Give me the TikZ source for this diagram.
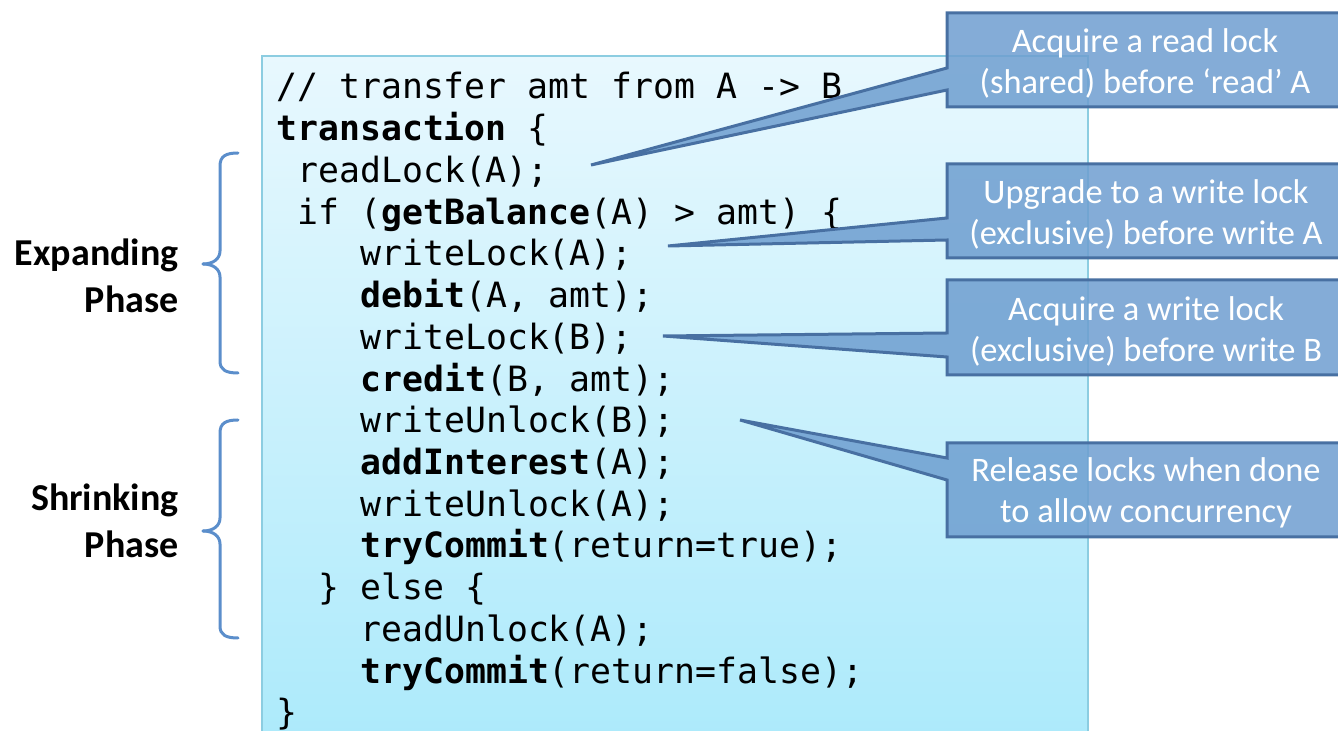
\documentclass[tikz,border=0pt]{standalone}
\usepackage{fontspec}
\setmainfont{Carlito}
\newfontfamily\codefont{DejaVu Sans Mono}
\definecolor{boxtop}{RGB}{232,248,254}
\definecolor{boxbot}{RGB}{172,234,251}
\definecolor{boxedge}{RGB}{140,205,225}
\definecolor{callfill}{RGB}{110,158,208}
\definecolor{calledge}{RGB}{72,112,162}
\definecolor{bracecol}{RGB}{91,142,203}
\begin{document}
\begin{tikzpicture}[x=0.5pt,y=-0.5pt,
  code/.style={anchor=base west, inner sep=0pt, font=\codefont\fontsize{17.4}{20}\selectfont},
  ctext/.style={text=white, align=center, inner sep=0pt, font=\fontsize{17.2}{20.5}\selectfont},
  callout/.style={fill=callfill, fill opacity=0.85, draw=calledge, line width=1.5pt, line join=miter},
  phase/.style={anchor=east, align=right, inner sep=0pt, font=\bfseries\fontsize{19}{23.5}\selectfont},
  bracestyle/.style={draw=bracecol, line width=1.5pt, line cap=round}]
\useasboundingbox (0,0) rectangle (1338,731);
% code box
\shade[top color=boxtop, bottom color=boxbot] (262,56) rectangle (1088,745);
\draw[boxedge, line width=0.6pt] (262,745) -- (262,56) -- (1088,56) -- (1088,745);
% code lines
\node[code] (c1) at (276,99) {// transfer amt from A -> B};
\node[code] (c2) at (276,140.7) {\textbf{transaction} \{};
\node[code] (c3) at (297,182.5) {readLock(A);};
\node[code] (c4) at (297,224.2) {if (\textbf{getBalance}(A) > amt) \{};
\node[code] (c5) at (360,265.9) {writeLock(A);};
\node[code] (c6) at (360,307.6) {\textbf{debit}(A, amt);};
\node[code] (c7) at (360,349.4) {writeLock(B);};
\node[code] (c8) at (360,391.1) {\textbf{credit}(B, amt);};
\node[code] (c9) at (360,432.8) {writeUnlock(B);};
\node[code] (c10) at (360,474.6) {\textbf{addInterest}(A);};
\node[code] (c11) at (360,516.3) {writeUnlock(A);};
\node[code] (c12) at (360,558) {\textbf{tryCommit}(return=true);};
\node[code] (c13) at (318,599.8) {\} else \{};
\node[code] (c14) at (360,641.5) {readUnlock(A);};
\node[code] (c15) at (360,683.2) {\textbf{tryCommit}(return=false);};
\node[code] (c16) at (276,724.9) {\}};
% pointer tips
\coordinate (t1) at (591,165);
\coordinate (t2) at (668,246);
\coordinate (t3) at (663,336);
\coordinate (t4) at (740,420);
% callouts
\path[callout] (947,13) -- (1345,13) -- (1345,107) -- (947,107) -- (947,90) -- (t1) -- (947,68) -- cycle;
\path[callout] (947,164) -- (1345,164) -- (1345,258) -- (947,258) -- (947,240) -- (t2) -- (947,218) -- cycle;
\path[callout] (947,280) -- (1345,280) -- (1345,375) -- (947,375) -- (947,357) -- (t3) -- (947,333) -- cycle;
\path[callout] (947,443) -- (1345,443) -- (1345,537) -- (947,537) -- (947,480) -- (t4) -- (947,458) -- cycle;
\node[ctext] (k1) at (1145,63.5) {Acquire a read lock\\(shared) before ‘read’ A};
\node[ctext] (k2) at (1146,214.5) {Upgrade to a write lock\\(exclusive) before write A};
\node[ctext] (k3) at (1146,331) {Acquire a write lock\\(exclusive) before write B};
\node[ctext] (k4) at (1146,492.5) {Release locks when done\\to allow concurrency};
% phase labels
\node[phase] (p1) at (179,276) {Expanding\\Phase};
\node[phase] (p2) at (179,521) {Shrinking\\Phase};
% braces
\draw[bracestyle] (238,153) .. controls (226,153) and (220,156) .. (220,166) -- (220,251)
  .. controls (220,259) and (213,264) .. (203,264);
\draw[bracestyle] (203,264) .. controls (213,264) and (220,269) .. (220,277) -- (220,361)
  .. controls (220,370) and (226,373) .. (238,373);
\draw[bracestyle] (238,420) .. controls (226,420) and (220,423) .. (220,433) -- (220,518)
  .. controls (220,526) and (213,531) .. (203,531);
\draw[bracestyle] (203,531) .. controls (213,531) and (220,536) .. (220,544) -- (220,626)
  .. controls (220,635) and (226,638) .. (238,638);
\end{tikzpicture}
\end{document}
